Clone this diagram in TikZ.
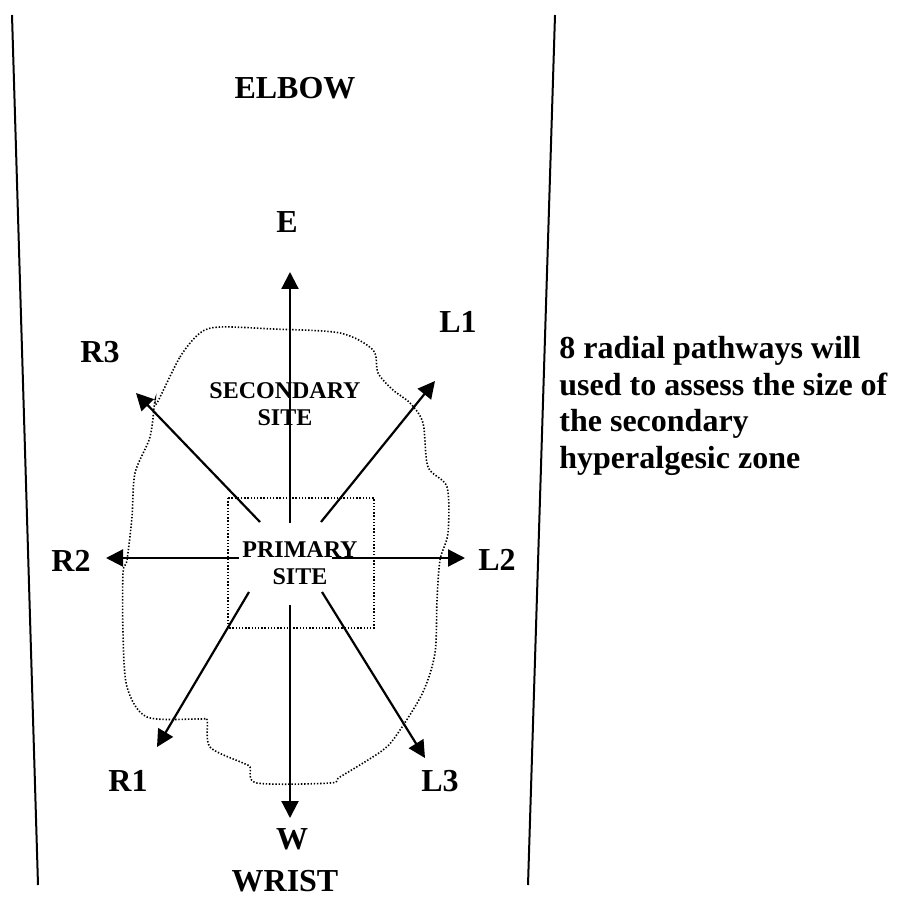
\documentclass[tikz,border=0pt]{standalone}
\usepackage{fontspec}
\setmainfont{Liberation Serif}
\usetikzlibrary{arrows.meta}

\begin{document}
\begin{tikzpicture}[x=0.5pt,y=-0.5pt,>={Triangle[length=8.5pt,width=8.5pt]},
 lbl/.style={inner sep=0pt,font=\bfseries\fontsize{16}{18.4}\selectfont},
 site/.style={inner sep=0pt,align=center,font=\bfseries\fontsize{12}{13.8}\selectfont},
 ar/.style={->,line width=1.1pt},
 dots/.style={line width=0.8pt,dash pattern=on 0.7pt off 0.9pt}]
 \useasboundingbox (0,0) rectangle (896,903);
 % forearm
 \draw[line width=1pt] (12,15) -- (38,885);
 \draw[line width=1pt] (555,15) -- (528,885);
 \node[lbl] (elbow) at (295,88) {ELBOW};
 \node[lbl] (wrist) at (285,881) {WRIST};
 % zones
 \draw[dots] plot[smooth cycle,tension=0.5] coordinates {(157,403) (180,357) (200,333) (220,327)
  (273,329) (340,333) (373,350) (378,373) (393,390) (410,403) (423,423) (428,467) (447,487)
  (448,533) (440,560) (437,600) (435,653) (423,692) (400,730) (383,750) (340,777) (330,783)
  (257,783) (250,767) (243,763) (210,747) (207,720) (200,719) (147,717) (127,687) (123,633)
  (123,573) (127,560) (132,517) (135,473) (150,437) (155,400)};
 \draw[dots] (228,498) rectangle (374,628);
 \node[site] (sec) at (285,404) {SECONDARY\\SITE};
 \node[site] (prim) at (300,563) {PRIMARY\\SITE};
 % radial pathways
 \foreach \n/\sx/\sy/\tx/\ty/\lx/\ly in {E/290/523/290/272/287/222,L1/321/522/435/381/458/322,
  L2/332/558/465/558/497/560,L3/322/592/425/758/440/781,W/290/605/290/818/292/839,
  R1/249/592/157/747/128/781,R2/239/558/106/558/71/561,R3/260/522/136/393/100/352}{
  \coordinate (\n-s) at (\sx,\sy);
  \coordinate (\n-t) at (\tx,\ty);
  \node[lbl] (\n) at (\lx,\ly) {\n};
  \draw[ar] (\n-s) -- (\n-t);
 }
 \node[lbl,anchor=west,align=left] (note) at (559,406) {8 radial pathways will\\used to assess the size of\\the secondary\\hyperalgesic zone};
\end{tikzpicture}
\end{document}
